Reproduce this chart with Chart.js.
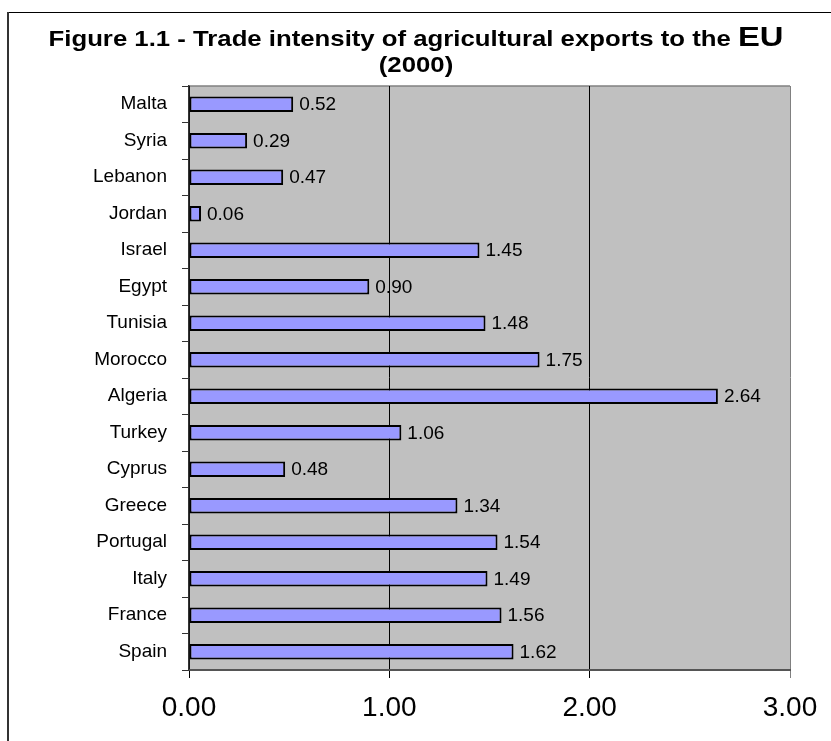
<!DOCTYPE html>
<html>
<head>
<meta charset="utf-8">
<title>Trade intensity of agricultural exports to the EU (2000)</title>
<script src="https://cdn.jsdelivr.net/npm/chart.js@4.4.1/dist/chart.umd.min.js"></script>
<style>
  html, body { margin: 0; padding: 0; background: #fff; }
  #wrap { width: 831px; height: 741px; }
</style>
</head>
<body>
<div id="wrap"><canvas id="tradeChart" width="831" height="741"></canvas></div>
<script>
// Countries top to bottom, and their trade intensity index
const countries = ["Malta", "Syria", "Lebanon", "Jordan", "Israel", "Egypt", "Tunisia", "Morocco",
                   "Algeria", "Turkey", "Cyprus", "Greece", "Portugal", "Italy", "France", "Spain"];
const intensity = [0.52, 0.29, 0.47, 0.06, 1.45, 0.90, 1.48, 1.75,
                   2.64, 1.06, 0.48, 1.34, 1.54, 1.49, 1.56, 1.62];
const axisTicks = [0, 1, 2, 3];

const titleMain = "Figure 1.1 - Trade intensity of agricultural exports to the ";
const titleBig = "EU";
const titleSub = "(2000)";

const FONT = 'Arial, "Liberation Sans", sans-serif';
Chart.defaults.font.family = FONT;
Chart.defaults.color = '#000';

// grey plot background, outer frame and the two-line title
const frameAndTitle = {
    id: 'frameAndTitle',
    beforeDraw(chart) {
        const c = chart.ctx, a = chart.chartArea;
        c.save();
        c.fillStyle = '#fff';
        c.fillRect(0, 0, chart.width, chart.height);

        c.fillStyle = '#C0C0C0';
        c.fillRect(a.left, a.top, a.right - a.left, a.bottom - a.top);
        c.strokeStyle = '#808080';
        c.lineWidth = 1.5;
        c.beginPath();
        c.moveTo(a.left, a.top);
        c.lineTo(a.right, a.top);
        c.stroke();

        // chart frame
        c.strokeStyle = '#000';
        c.lineWidth = 1;
        c.beginPath();
        c.moveTo(7, 12.5);
        c.lineTo(chart.width, 12.5);
        c.stroke();
        c.strokeStyle = '#333';
        c.lineWidth = 2;
        c.beginPath();
        c.moveTo(8, 12);
        c.lineTo(8, chart.height);
        c.stroke();

        // title, set a little wide
        c.translate(416, 0);
        c.scale(1.17, 1);
        c.fillStyle = '#000';
        c.textBaseline = 'alphabetic';
        c.textAlign = 'left';
        c.font = 'bold 22px ' + FONT;
        const w1 = c.measureText(titleMain).width;
        c.font = 'bold 28px ' + FONT;
        const w2 = c.measureText(titleBig).width;
        const x = -(w1 + w2) / 2;
        c.font = 'bold 22px ' + FONT;
        c.fillText(titleMain, x, 46);
        c.font = 'bold 28px ' + FONT;
        c.fillText(titleBig, x + w1, 46);
        c.font = 'bold 22px ' + FONT;
        c.textAlign = 'center';
        c.fillText(titleSub, 0, 72);
        c.restore();
    }
};

// value printed to the right of each bar
const barValues = {
    id: 'barValues',
    afterDatasetsDraw(chart) {
        const c = chart.ctx;
        const meta = chart.getDatasetMeta(0);
        c.save();
        c.font = '19px ' + FONT;
        c.fillStyle = '#000';
        c.textAlign = 'left';
        c.textBaseline = 'middle';
        meta.data.forEach((bar, i) => {
            c.fillText(intensity[i].toFixed(2), bar.x + 6, bar.y + 1);
        });
        c.restore();
    }
};

const ctx = document.getElementById("tradeChart").getContext("2d");
const tradeChart = new Chart(ctx, {
    type: 'bar',
    data: {
        labels: countries,
        datasets: [{
            data: intensity,
            backgroundColor: '#9999FF',
            borderColor: '#000',
            borderWidth: 2,
            borderSkipped: false,
            barPercentage: 0.43,
            categoryPercentage: 1.0
        }]
    },
    options: {
        indexAxis: 'y',
        responsive: false,
        animation: false,
        layout: { padding: { top: 86, right: 41, left: 0, bottom: 0 } },
        plugins: {
            legend: { display: false },
            tooltip: { enabled: false },
            title: { display: false }
        },
        scales: {
            x: {
                min: axisTicks[0],
                max: axisTicks[axisTicks.length - 1],
                afterBuildTicks: (scale) => { scale.ticks = axisTicks.map(v => ({ value: v })); },
                afterFit: (scale) => { scale.height = 71; },
                grid: {
                    color: (c) => c.tick && c.tick.value === 3 ? '#808080' : '#000',
                    lineWidth: 1,
                    tickLength: 8
                },
                border: { color: '#555', width: 2 },
                ticks: {
                    font: { size: 28 },
                    color: '#000',
                    padding: 13,
                    callback: (v) => Number(v).toFixed(2)
                }
            },
            y: {
                afterFit: (scale) => { scale.width = 189; },
                grid: {
                    offset: true,
                    drawOnChartArea: false,
                    color: '#333',
                    tickLength: 7
                },
                border: { color: '#333', width: 1.5 },
                ticks: {
                    font: { size: 19 },
                    color: '#000',
                    padding: 15
                }
            }
        }
    },
    plugins: [frameAndTitle, barValues]
});
</script>
</body>
</html>
